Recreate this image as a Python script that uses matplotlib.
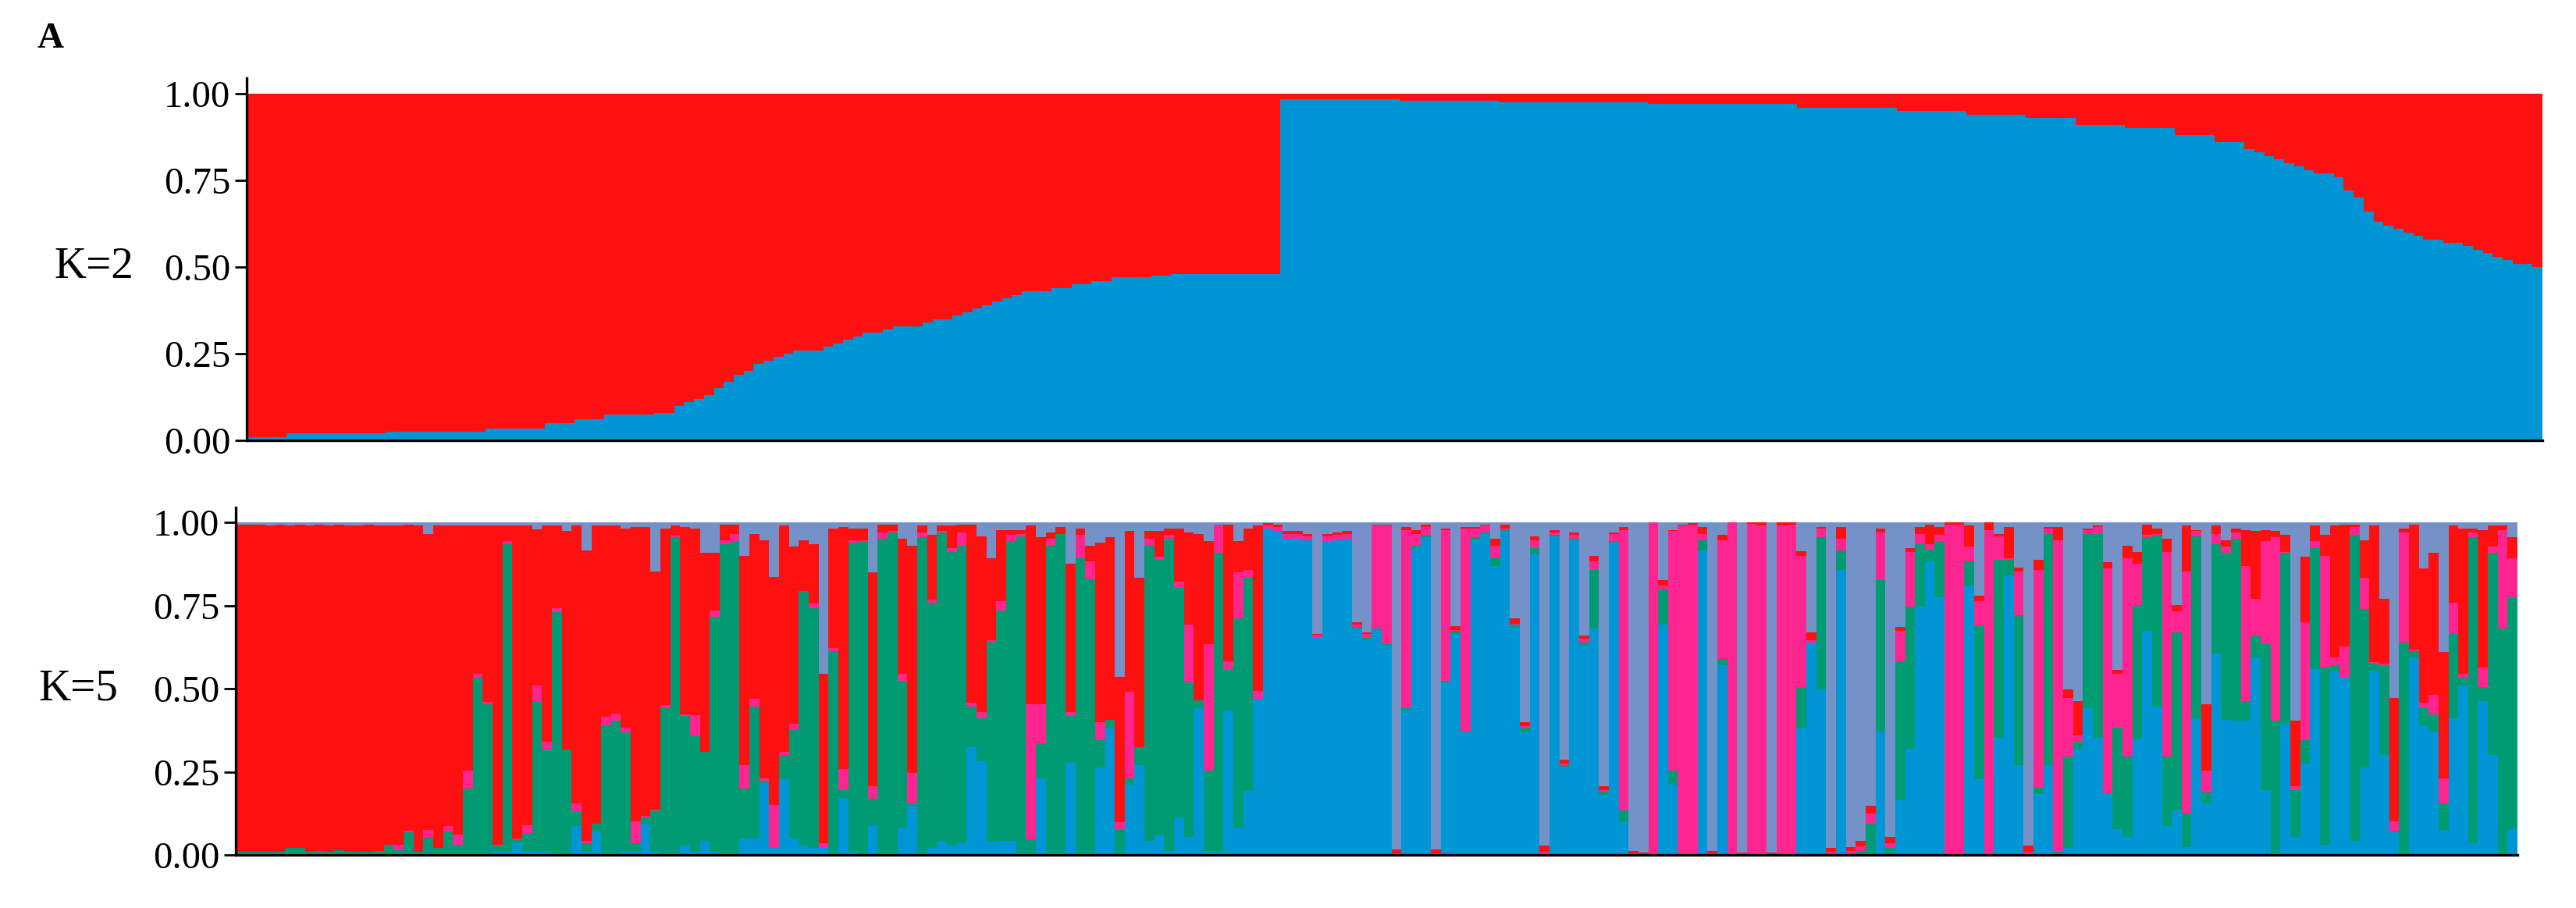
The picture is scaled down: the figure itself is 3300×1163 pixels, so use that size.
import numpy as np
import matplotlib
matplotlib.use("Agg")
import matplotlib.pyplot as plt

plt.rcParams['font.family'] = ['Liberation Serif', 'DejaVu Serif']

# colours of the clusters
RED = '#FE1010'
BLUE = '#0096D6'
GREEN = '#009B73'
PINK = '#FF2590'
LAVENDER = '#7492C8'

# K=2: blue share per individual (red fills up to 1)
k2_blue = [
    0.01, 0.01, 0.01, 0.01, 0.02, 0.02, 0.02, 0.02, 0.02, 0.02,
    0.02, 0.02, 0.02, 0.02, 0.025, 0.025, 0.025, 0.025, 0.025, 0.025,
    0.025, 0.025, 0.025, 0.025, 0.035, 0.035, 0.035, 0.035, 0.035, 0.035,
    0.05, 0.05, 0.05, 0.06, 0.06, 0.06, 0.075, 0.075, 0.075, 0.075,
    0.075, 0.08, 0.08, 0.10, 0.11, 0.12, 0.13, 0.15, 0.17, 0.19,
    0.20, 0.22, 0.23, 0.24, 0.25, 0.26, 0.26, 0.26, 0.27, 0.28,
    0.29, 0.30, 0.31, 0.31, 0.32, 0.33, 0.33, 0.33, 0.34, 0.35,
    0.35, 0.36, 0.37, 0.38, 0.39, 0.40, 0.41, 0.42, 0.43, 0.43,
    0.43, 0.44, 0.44, 0.45, 0.45, 0.46, 0.46, 0.47, 0.47, 0.47,
    0.47, 0.475, 0.475, 0.48, 0.48, 0.48, 0.48, 0.48, 0.48, 0.48,
    0.48, 0.48, 0.48, 0.48,
    0.985, 0.985, 0.985, 0.985, 0.985, 0.985, 0.985, 0.985, 0.985, 0.985,
    0.985, 0.985, 0.98, 0.98, 0.98, 0.98, 0.98, 0.98, 0.98, 0.98,
    0.98, 0.98, 0.975, 0.975, 0.975, 0.975, 0.975, 0.975, 0.975, 0.975,
    0.975, 0.975, 0.975, 0.975, 0.975, 0.975, 0.975, 0.97, 0.97, 0.97,
    0.97, 0.97, 0.97, 0.97, 0.97, 0.97, 0.97, 0.97, 0.97, 0.97,
    0.97, 0.97, 0.96, 0.96, 0.96, 0.96, 0.96, 0.96, 0.96, 0.96,
    0.96, 0.96, 0.95, 0.95, 0.95, 0.95, 0.95, 0.95, 0.95, 0.94,
    0.94, 0.94, 0.94, 0.94, 0.94, 0.93, 0.93, 0.93, 0.93, 0.93,
    0.91, 0.91, 0.91, 0.91, 0.91, 0.90, 0.90, 0.90, 0.90, 0.90,
    0.88, 0.88, 0.88, 0.88, 0.86, 0.86, 0.86, 0.84, 0.83, 0.82,
    0.81, 0.80, 0.79, 0.78, 0.77, 0.77, 0.76, 0.72, 0.70, 0.66,
    0.63, 0.62, 0.61, 0.60, 0.59, 0.58, 0.58, 0.57, 0.57, 0.56,
    0.55, 0.54, 0.53, 0.52, 0.51, 0.51, 0.50,
]

# K=5: upper edge of each stacked segment (blue, green, pink, red; lavender to 1)
k5_blue_top = [
    .005, .005, .005, .005, .005, .005, .005, .005, .005, .005,
    .005, .005, .005, .005, .005, .005, .005, .005, .005, .005,
    .005, .005, .005, .005, .005, .005, .01, .01, .035, .01,
    .01, .012, .005, .005, .086, .01, .07, .005, .005,
    .01, .01, .094, .01, .005, .005, .027, .01, .043, .01,
    .005, .005, .05, .05, .215, .02, .227, .05, .027, .02,
    .02, .005, .172, .012, .005, .09, .005, .005, .082, .149,
    .005, .02, .04, .027, .035, .325, .282, .04,
    .043, .043, .005, .005, .23, .005, .005, .278, .005, .005,
    .262, .38, .005, .211, .27, .043, .059, .012, .113, .055,
    .442, .012, .012, .434, .082, .192, .47, .982, .974, .95,
    .95, .947, .652, .943, .947, .95, .681, .646,
    .677, .63, 0, .434, .923, .955, 0, .52, .665, .368,
    .947, .966, .869, .974, .685, .368, .904, 0, .958, .262,
    .947, .63, .68, .18, .939, .098, 0, 0, 0, .692,
    .211, 0, 0, .915, 0, .571, 0, 0, 0,
    0, 0, 0, 0, .38, .638, .497, 0, .857, 0,
    0, 0, .372, 0, .164, .32, .747, .884, .775, 0,
    0, .81, .227, 0, .352, .841, .27, 0, .184, .27,
    .005, .02, .32, .442, .352, .184, .078, .055,
    .348, .673, .446, .086, .133, .023, .41, .156, .606, .407,
    .403, .403, .595, .196, .004, .395, .055, .274, .56, .031,
    .552, .532, .043, .262, .552, .30, .067, 0, .595, .387,
    .372, .074, .41, .509, .035, .462, .30, 0, .078,
]
k5_green_top = [
    .01, .01, .01, .01, .01, .02, .02, .01, .012, .01,
    .015, .01, .01, .01, .012, .03, .015, .067, .01, .055,
    .02, .07, .03, .20, .536, .454, .027, .935, .047, .063,
    .46, .317, .73, .317, .13, .035, .094, .39, .403,
    .368, .035, .113, .133, .442, .955, .418, .36, .309, .716,
    .935, .943, .20, .446, .223, .02, .30, .375, .794, .743,
    .02, .614, .196, .939, .943, .168, .95, .97, .524, .156,
    .955, .759, .97, .912, .931, .446, .41, .642,
    .736, .943, .958, .047, .336, .931, .966, .418, .892, .83,
    .344, .407, .078, .23, .325, .931, .888, .95, .802, .52,
    .466, .254, .908, .556, .712, .837, .47, .982, .974, .95,
    .95, .947, .652, .943, .947, .95, .685, .653,
    .68, .634, 0, .442, .931, .962, 0, .524, .673, .372,
    .955, .97, .892, .978, .692, .383, .923, 0, .962, .27,
    .951, .638, .857, .19, .943, .133, 0, 0, 0, .798,
    .254, 0, 0, .947, 0, .59, 0, 0, 0,
    0, 0, 0, 0, .505, .638, .955, .005, .915, .005,
    .012, .094, .826, .02, .583, .747, .935, .919, .943, 0,
    0, .884, .689, 0, .888, .888, .72, 0, .203, .966,
    .01, .297, .34, .966, .966, .184, .383, .297,
    .751, .955, .962, .297, .669, .125, .958, .188, .935, .908,
    .951, .462, .661, .634, .403, .908, .196, .344, .923, .563,
    .571, .532, .962, .74, .575, .571, .07, .638, .614, .442,
    .423, .156, .665, .532, .955, .505, .908, .68, .775,
]
k5_pink_top = [
    .01, .01, .01, .01, .01, .02, .02, .01, .012, .01,
    .015, .01, .01, .01, .012, .03, .03, .073, .01, .074,
    .02, .086, .06, .254, .544, .46, .03, .943, .05, .09,
    .51, .34, .743, .317, .156, .043, .094, .415, .426,
    .383, .10, .117, .137, .45, .96, .422, .42, .309, .735,
    .947, .966, .27, .47, .23, .15, .31, .395, .794, .755,
    .035, .622, .258, .947, .947, .207, .97, .974, .544, .246,
    .97, .767, .974, .923, .97, .458, .43, .646,
    .763, .962, .966, .454, .454, .95, .966, .43, .962, .884,
    .40, .407, .098, .49, .325, .95, .896, .962, .822, .692,
    .466, .634, .994, .583, .849, .857, .493, .994, .986, .966,
    .966, .958, .662, .958, .962, .966, .692, .665,
    .99, .99, .005, .978, .966, .986, .005, .978, .677, .982,
    .982, .99, .931, .982, .696, .387, .947, .01, .97, .274,
    .962, .65, .884, .194, .966, .978, .004, .003, 1.0, .81,
    .974, .99, .994, .966, .004, .947, 1.0, .004, .995,
    .99, .004, .99, .994, .90, .646, .982, .01, .95, .012,
    .025, .125, .97, .035, .673, .912, .966, .935, .962, .994,
    .994, .927, .763, .978, .958, .892, .853, .01, .857, .982,
    .947, .473, .36, .978, .986, .861, .544, .892,
    .876, .962, .966, .912, .732, .853, .974, .254, .966, .927,
    .97, .869, .771, .943, .955, .912, .207, .70, .943, .90,
    .595, .626, .986, .833, .579, .575, .10, .97, .618, .458,
    .481, .231, .759, .544, .97, .563, .927, .978, .892,
]
k5_red_top = [
    .994, .994, .994, .99, .994, .99, .994, .99, .994, .99,
    .994, .99, .99, .994, .99, .99, .99, .994, .99, .966,
    .99, .99, .99, .99, .99, .99, .99, .99, .99, .99,
    .98, .99, .99, .974, .99, .915, .99, .99, .99,
    .982, .986, .986, .853, .982, .99, .986, .982, .908, .908,
    .994, .994, .90, .966, .947, .837, .99, .927, .947, .935,
    .544, .982, .986, .982, .982, .849, .994, .994, .95, .931,
    .99, .962, .99, .99, .994, .994, .958, .892,
    .978, .978, .978, .99, .955, .97, .986, .876, .982, .931,
    .939, .955, .536, .974, .833, .974, .974, .982, .982, .97,
    .966, .943, .994, .994, .943, .982, .99, .998, .994, .974,
    .974, .966, .665, .966, .97, .974, .70, .67,
    .994, .994, .016, .986, .978, .994, .016, .982, .689, .986,
    .986, .994, .95, .994, .712, .40, .958, .027, .978, .286,
    .97, .661, .90, .207, .97, .986, .012, .008, 1.0, .826,
    .978, .994, .997, .986, .012, .962, 1.0, .008, 1.0,
    1.0, .008, 1.0, 1.0, .913, .67, .986, .02, .986, .023,
    .043, .149, .982, .055, .685, .923, .986, .994, .986, 1.0,
    1.0, .99, .779, 1.0, .966, .986, .865, .027, .888, .986,
    .986, .497, .462, .982, .99, .88, .556, .931,
    .91, .994, .982, .95, .751, .99, .978, .454, .99, .947,
    .982, .978, .974, .978, .974, .962, .403, .896, .99, .962,
    .99, .994, .994, .947, .99, .771, .473, .982, .994, .861,
    .908, .61, .99, .982, .982, .978, .99, .99, .955,
]

fig = plt.figure(figsize=(33, 11.63), dpi=100)
ax1 = fig.add_axes([0.0958, 0.515, 0.8912, 0.399])
ax2 = fig.add_axes([0.0915, 0.0585, 0.8858, 0.3826])


def style(ax, n):
    ax.set_xlim(0, n)
    ax.set_ylim(0, 1.045)
    ax.set_yticks([0, 0.25, 0.5, 0.75, 1.0])
    ax.set_yticklabels(['0.00', '0.25', '0.50', '0.75', '1.00'])
    ax.set_xticks([])
    for s in ['top', 'right']:
        ax.spines[s].set_visible(False)
    for s in ['left', 'bottom']:
        ax.spines[s].set_linewidth(2.4)
    ax.tick_params(axis='y', length=11, width=2.0, labelsize=35, pad=4)


# K=2 panel
b2 = np.array(k2_blue)
x2 = np.arange(len(b2))
ax1.bar(x2, b2, width=1.0, align='edge', color=BLUE, linewidth=0)
ax1.bar(x2, 1 - b2, bottom=b2, width=1.0, align='edge', color=RED, linewidth=0)
style(ax1, len(b2))

# K=5 panel
tops = np.array([k5_blue_top, k5_green_top, k5_pink_top, k5_red_top, np.ones(len(k5_blue_top))])
x5 = np.arange(tops.shape[1])
prev = np.zeros(tops.shape[1])
for top, col in zip(tops, [BLUE, GREEN, PINK, RED, LAVENDER]):
    h = np.clip(top - prev, 0, None)
    ax2.bar(x5, h, bottom=prev, width=1.0, align='edge', color=col, linewidth=0)
    prev = np.maximum(prev, top)
style(ax2, tops.shape[1])

fig.text(0.0363, 0.706, 'K=2', fontsize=41, ha='center', va='center')
fig.text(0.0305, 0.2416, 'K=5', fontsize=41, ha='center', va='center')
fig.text(0.0195, 0.957, 'A', fontsize=34, fontweight='bold', ha='center', va='center')

fig.savefig('out.png', dpi=100)
